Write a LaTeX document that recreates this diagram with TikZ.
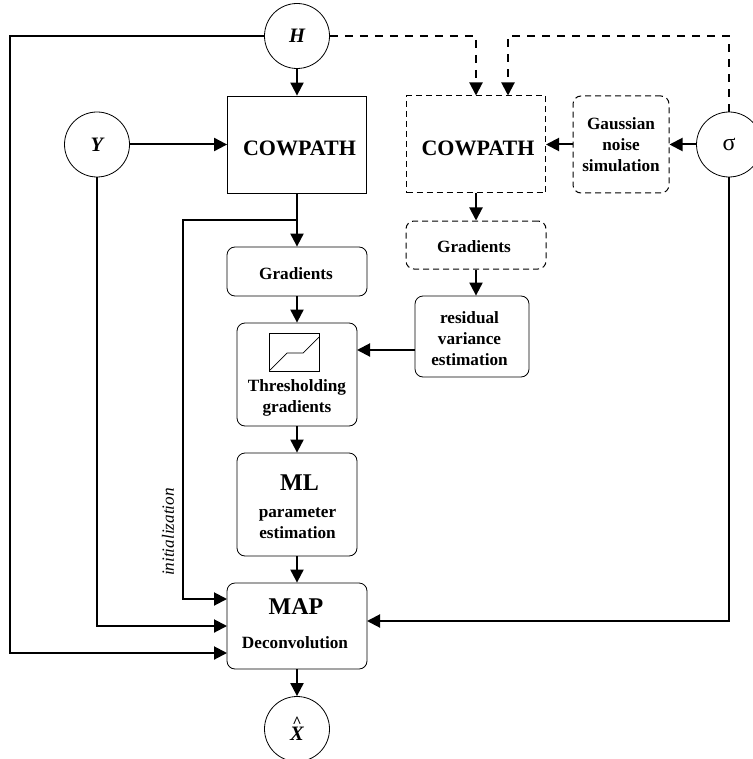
\documentclass[tikz,border=0pt]{standalone}
\usepackage{fontspec}
\setmainfont{Liberation Serif}
\usepackage{tikz}
\usetikzlibrary{calc}
\usetikzlibrary{arrows.meta}
\newcommand{\sizeb}{\fontsize{17.2}{21}\selectfont\bfseries}
\newcommand{\sizea}{\fontsize{24}{28}\selectfont\bfseries}
\newcommand{\sizec}{\fontsize{22}{26}\selectfont\bfseries}
\tikzset{
  conn/.style={line width=2pt, -{Triangle[width=13pt,length=13pt]}},
  connd/.style={conn, dash pattern=on 8pt off 7pt},
  circ/.style={draw, circle, minimum size=65pt, inner sep=0pt, line width=0.8pt, align=center, font=\fontsize{20.5}{24}\selectfont\bfseries\itshape},
  sqbox/.style={draw, line width=0.8pt, inner sep=0pt},
  rbox/.style={draw, rounded corners=8pt, line width=0.8pt, align=center, inner sep=0pt, font=\sizeb},
  dbox/.style={rbox, line width=1pt, dash pattern=on 6pt off 4pt}
}
\begin{document}
\begin{tikzpicture}[x=1pt, y=-1pt]
        \useasboundingbox (0,0) rectangle (752,759);
        % circles
        \node[circ] (H) at (297,36) {\raisebox{-2pt}{H}};
        \node[circ] (Y) at (97,144.5) {\raisebox{-3pt}{Y}};
        \node[circ, font=\fontsize{24}{24}\selectfont] (S) at (729,144.5) {\raisebox{-1pt}{σ}};
        \node[circ] (X) at (297,729) {\raisebox{-1pt}{\fontsize{16}{16}\selectfont\^{}}\\[-10pt]X};
        % left column
        \node[sqbox, minimum width=139pt, minimum height=97pt] (cow) at (297,144.5) {};
        \node[font=\sizec] (cowtxt) at (299.5,148) {COWPATH};
        \node[rbox, minimum width=140pt, minimum height=49pt] (grad) at (297,271.5) {};
        \node[font=\sizeb] (gradtxt) at (296,274) {Gradients};
        \node[rbox, minimum width=120pt, minimum height=103pt] (thr) at (297,374.5) {};
        \node[font=\sizeb, align=center] (thrtxt) at (297,398) {Thresholding\\gradients};
        \node[rbox, minimum width=120pt, minimum height=103pt] (ml) at (297,504.5) {};
        \node[font=\sizea] (mltxt) at (299.5,483) {ML};
        \node[font=\sizeb, align=center] (mlsub) at (297.5,523) {parameter\\estimation};
        \node[rbox, minimum width=140pt, minimum height=86pt] (map) at (297,626) {};
        \node[font=\sizea] (maptxt) at (296,607) {MAP};
        \node[font=\sizeb] (mapsub) at (295,643) {Deconvolution};
        % right column
        \node[sqbox, line width=1pt, dash pattern=on 6pt off 4pt, minimum width=139pt, minimum height=97pt] (cowd) at (476,144.5) {};
        \node[font=\sizec] (cowdtxt) at (478,148.5) {COWPATH};
        \node[dbox, minimum width=96pt, minimum height=97pt] (gauss) at (621,144.5) {Gaussian\\noise\\simulation};
        \node[dbox, minimum width=140pt, minimum height=48pt] (gradd) at (476,245) {};
        \node[font=\sizeb] (graddtxt) at (474,247) {Gradients};
        \node[rbox, minimum width=114pt, minimum height=81pt] (res) at (472,336.5) {};
        \node[font=\sizeb, align=center] (restxt) at (469.5,339) {residual\\variance\\estimation};
        % small plot
        \node[sqbox, minimum width=50pt, minimum height=38pt] (plot) at (294,352) {};
        \draw[line width=0.7pt] (270,370) -- (287,353) -- (303,353) -- (319,337);
        % free corners
        \coordinate (mapa) at (227,599);
        \coordinate (mapb) at (227,626);
        \coordinate (mapc) at (227,653);
        \coordinate (mapd) at (367,621);
        \coordinate (lefta) at (10,36);
        \coordinate (leftb) at (183,220);
        \coordinate (topb) at (508,36);
        \coordinate (branch) at (297,220);
        \coordinate (thrin) at (357,350);
        % connectors
        \draw[conn] (H) -- (cow);
        \draw[conn] (Y) -- (cow);
        \draw[conn] (cow) -- (grad);
        \draw[conn] (grad) -- (thr);
        \draw[conn] (thr) -- (ml);
        \draw[conn] (ml) -- (map);
        \draw[conn] (map) -- (X);
        \draw[conn] (S) -- (gauss);
        \draw[conn] (gauss) -- (cowd);
        \draw[conn] (cowd) -- (gradd);
        \draw[conn] (gradd.south) -- (gradd.south |- res.north);
        \draw[conn] (res.west |- thrin) -- (thrin);
        \draw[conn] (branch) -- (leftb) -- (mapa -| leftb) -- (mapa);
        \draw[conn] (Y) -- (Y |- mapb) -- (mapb);
        \draw[conn] (H) -- (lefta) -- (lefta |- mapc) -- (mapc);
        \draw[conn] (S) -- (S |- mapd) -- (mapd);
        % dashed
        \draw[connd] (H) -- (H -| cowd) -- (cowd.north);
        \draw[connd] (S) -- (S |- topb) -- (topb) -- (topb |- cowd.north);
        % side label
        \node[rotate=90, font=\fontsize{17.2}{20}\selectfont\itshape] (init) at (168,532) {initialization};
\end{tikzpicture}
\end{document}
